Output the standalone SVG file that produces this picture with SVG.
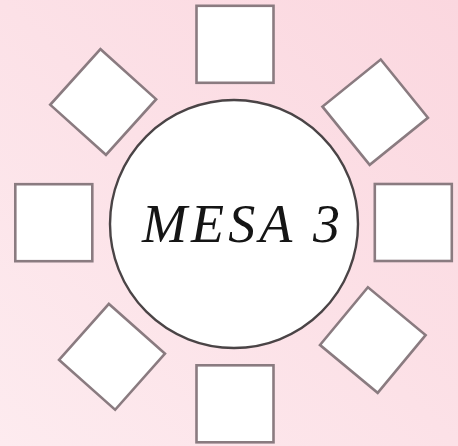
<svg xmlns="http://www.w3.org/2000/svg" width="458" height="446" viewBox="0 0 458 446">
  <defs>
    <linearGradient id="bg" x1="0" y1="1" x2="1" y2="0">
      <stop offset="0" stop-color="#fdebef"/>
      <stop offset="1" stop-color="#fbd7df"/>
    </linearGradient>
    <style>
      .seat { fill: #ffffff; stroke: #8a7b80; stroke-width: 2.6; }
      .table { fill: #ffffff; stroke: #4a4446; stroke-width: 2.4; }
      .label { font-family: "Liberation Serif", "DejaVu Serif", serif; font-style: italic; font-size: 54px; fill: #151515; }
    </style>
  </defs>
  <rect x="0" y="0" width="458" height="446" fill="url(#bg)"/>
  <g id="seat-top"><rect class="seat" x="-38.5" y="-38.5" width="77" height="77" transform="translate(235,44.3)"/></g>
  <g id="seat-bottom"><rect class="seat" x="-38.5" y="-38.5" width="77" height="77" transform="translate(235,403.8)"/></g>
  <g id="seat-left"><rect class="seat" x="-38.5" y="-38.5" width="77" height="77" transform="translate(53.8,222.7)"/></g>
  <g id="seat-right"><rect class="seat" x="-38.5" y="-38.5" width="77" height="77" transform="translate(413.3,222.5)"/></g>
  <g id="seat-top-left"><rect class="seat" x="-37.5" y="-37.5" width="75" height="75" transform="translate(103.2,102) rotate(42)"/></g>
  <g id="seat-top-right"><rect class="seat" x="-37.5" y="-37.5" width="75" height="75" transform="translate(375.2,112.2) rotate(51)"/></g>
  <g id="seat-bottom-left"><rect class="seat" x="-37.5" y="-37.5" width="75" height="75" transform="translate(112,356.8) rotate(41.6)"/></g>
  <g id="seat-bottom-right"><rect class="seat" x="-37.5" y="-37.5" width="75" height="75" transform="translate(372.8,340.1) rotate(39.7)"/></g>
  <g id="table">
    <circle class="table" cx="234" cy="224" r="124"/>
    <text class="label" x="241" y="242" text-anchor="middle" textLength="198" lengthAdjust="spacing">MESA 3</text>
  </g>
  <g id="connectors"></g>
</svg>
